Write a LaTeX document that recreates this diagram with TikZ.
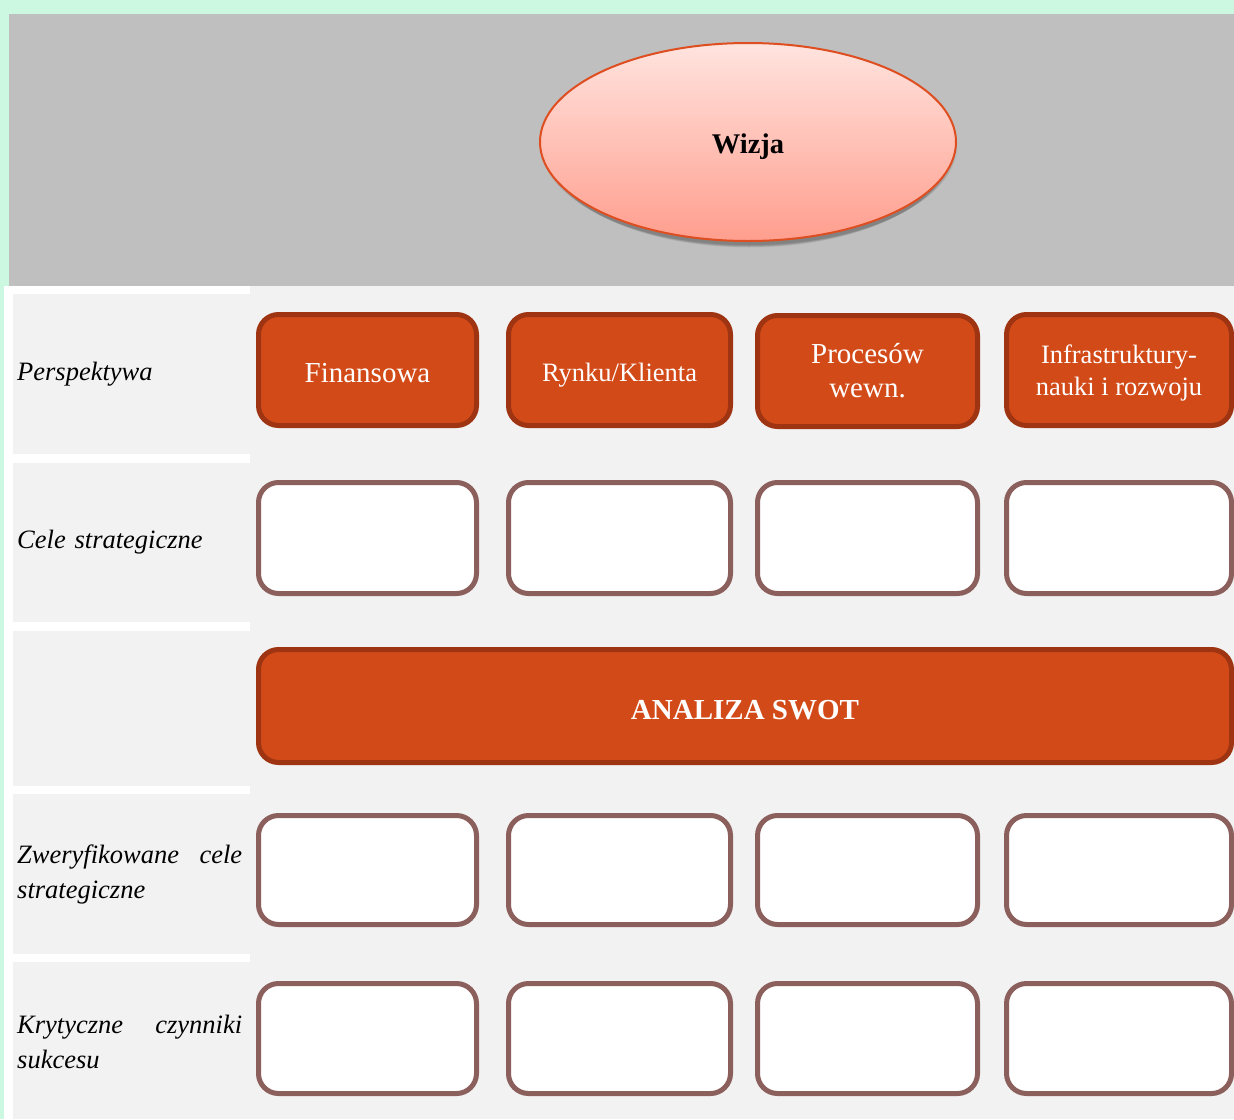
\documentclass[tikz,border=0pt]{standalone}
\usepackage{fontspec}
\setmainfont{Liberation Serif}
\usetikzlibrary{shapes.geometric}
\definecolor{bggreen}{RGB}{204,247,224}
\definecolor{topgray}{RGB}{191,191,191}
\definecolor{panel}{RGB}{242,242,242}
\definecolor{ofill}{RGB}{210,74,24}
\definecolor{oedge}{RGB}{158,52,18}
\definecolor{wedge}{RGB}{139,95,92}
\definecolor{elltop}{RGB}{255,228,223}
\definecolor{ellbot}{RGB}{255,158,142}
\definecolor{elledge}{RGB}{222,78,32}
\tikzset{
  obox/.style={draw=oedge, fill=ofill, line width=5pt, rounded corners=20pt,
    inner sep=0pt, minimum height=111pt, text=white, align=center},
  wbox/.style={draw=wedge, fill=white, line width=5pt, rounded corners=20pt,
    inner sep=0pt, minimum height=111pt},
  rowlabel/.style={anchor=west, inner sep=0pt, text width=225pt, align=left,
    font=\fontsize{26.5}{35}\selectfont\itshape},
  bigtxt/.style={font=\fontsize{29}{34}\selectfont},
  smalltxt/.style={font=\fontsize{26.5}{32}\selectfont},
}
\begin{document}
\begin{tikzpicture}[x=1pt,y=-1pt]
\useasboundingbox (0,0) rectangle (1234,1119);
% backgrounds
\fill[bggreen] (0,0) rectangle (1234,1119);
\fill[topgray] (9,14) rectangle (1234,286);
\fill[white] (4,286) rectangle (1234,1119);
\fill[panel] (250,286) rectangle (1234,1119);
\fill[panel] (13,294) rectangle (250,454);
\fill[panel] (13,463) rectangle (250,622);
\fill[panel] (13,631) rectangle (250,786);
\fill[panel] (13,794) rectangle (250,954);
\fill[panel] (13,962) rectangle (250,1119);
% soft shadow of the vision ellipse
\foreach \i in {0,1,2,3,4,5}{
  \fill[black, opacity=0.06] (749,146+\i*0.8) ellipse ({208-\i*1.5} and {99-\i*0.3});
}
% vision ellipse
\node[ellipse, draw=elledge, line width=2pt, top color=elltop, bottom color=ellbot,
  minimum width=416pt, minimum height=198pt, inner sep=0pt,
  text height=24pt, text depth=2pt,
  font=\fontsize{28.5}{34}\selectfont\bfseries] (wizja) at (748,142) {Wizja};
% row labels
\node[rowlabel] (l1) at (17,374) {Perspektywa};
\node[rowlabel] (l2) at (17,542) {Cele strategiczne};
\node[rowlabel] (l4) at (17,874) {Zweryfikowane\hfill cele\\strategiczne};
\node[rowlabel] (l5) at (17,1042) {Krytyczne\hfill czynniki\\sukcesu};
% perspective boxes
\node[obox, bigtxt, minimum width=218pt, text height=24pt, text depth=0pt] (p1) at (367.5,370) {Finansowa};
\node[obox, smalltxt, minimum width=222pt, text height=22pt, text depth=0pt] (p2) at (619.5,370) {Rynku/Klienta};
\node[obox, bigtxt, minimum width=220pt] (p3) at (867.5,371) {Procesów\\wewn.};
\node[obox, smalltxt, minimum width=225pt] (p4) at (1119,370) {\rule{0pt}{25pt}Infrastruktury-\\nauki i rozwoju};
% strategic goals
\node[wbox, minimum width=218pt] (c1) at (367.5,538) {};
\node[wbox, minimum width=222pt] (c2) at (619.5,538) {};
\node[wbox, minimum width=220pt] (c3) at (867.5,538) {};
\node[wbox, minimum width=225pt] (c4) at (1119,538) {};
% SWOT
\node[obox, minimum width=973pt, minimum height=113pt, text height=26pt, text depth=0pt,
  font=\fontsize{29}{34}\selectfont\bfseries] (swot) at (745,706) {ANALIZA SWOT};
% verified goals
\node[wbox, minimum width=218pt, minimum height=109pt] (z1) at (367.5,870) {};
\node[wbox, minimum width=222pt, minimum height=109pt] (z2) at (619.5,870) {};
\node[wbox, minimum width=220pt, minimum height=109pt] (z3) at (867.5,870) {};
\node[wbox, minimum width=225pt, minimum height=109pt] (z4) at (1119,870) {};
% critical success factors
\node[wbox, minimum width=218pt, minimum height=110pt] (k1) at (367.5,1038.5) {};
\node[wbox, minimum width=222pt, minimum height=110pt] (k2) at (619.5,1038.5) {};
\node[wbox, minimum width=220pt, minimum height=110pt] (k3) at (867.5,1038.5) {};
\node[wbox, minimum width=225pt, minimum height=110pt] (k4) at (1119,1038.5) {};
\end{tikzpicture}
\end{document}
